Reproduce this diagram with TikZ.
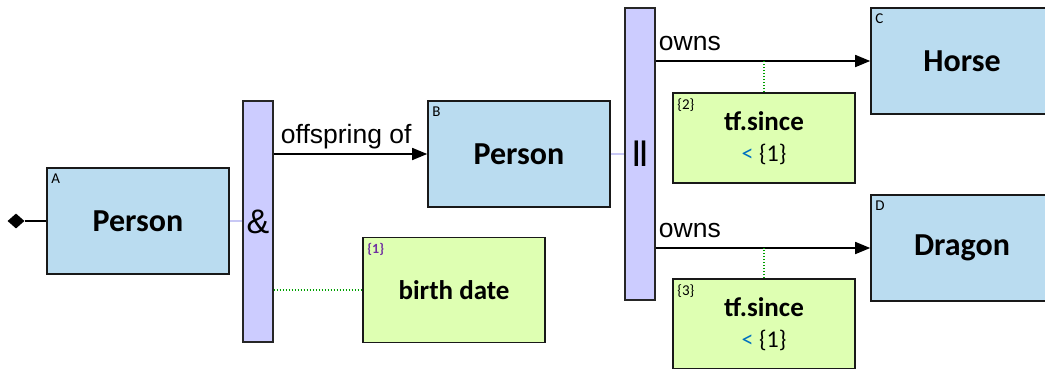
\documentclass[tikz,border=0pt]{standalone}
\usepackage{fontspec}
\setmainfont{Carlito}
\newfontfamily\arialf{Liberation Sans}
\usetikzlibrary{arrows.meta,shapes.geometric}
\definecolor{boxblue}{RGB}{186,220,240}
\definecolor{boxgreen}{RGB}{222,255,178}
\definecolor{barfill}{RGB}{204,204,255}
\definecolor{faint}{RGB}{200,200,245}
\definecolor{dotgreen}{RGB}{0,160,0}
\definecolor{ltblue}{RGB}{0,112,192}
\definecolor{purp}{RGB}{112,48,160}
\tikzset{
  ent/.style={draw=black!90, line width=1.6pt, fill=boxblue, minimum width=182pt, minimum height=106pt,
    inner sep=0pt, font=\fontsize{32}{34}\selectfont\bfseries},
  attr/.style={draw=black!90, line width=1.6pt, fill=boxgreen, minimum width=182pt, minimum height=90pt,
    inner sep=0pt, align=center, font=\fontsize{27}{29}\selectfont},
  opbar/.style={draw=black!85, line width=1.4pt, fill=barfill, minimum width=30pt, inner sep=0pt,
    font=\arialf\fontsize{34}{36}\selectfont},
  tag/.style={anchor=north west, inner sep=0pt, xshift=5pt, yshift=-6pt, font=\fontsize{15}{16}\selectfont},
  rel/.style={line width=1.6pt, -{Triangle[length=15pt,width=12pt]}},
  rlab/.style={anchor=base west, inner sep=0pt, font=\arialf\fontsize{26.5}{28}\selectfont},
  faintline/.style={draw=faint, line width=2pt},
  dotline/.style={draw=dotgreen, line width=1.5pt, dash pattern=on 1.5pt off 1.5pt},
}
\begin{document}
\begin{tikzpicture}[x=1pt,y=-1pt]
\clip (0,0) rectangle (1045,368);
\fill[white] (0,0) rectangle (1045,368);
% entities
\node[ent, label={[tag]north west:A}] (A) at (138,221) {Person};
\node[ent, label={[tag]north west:B}] (B) at (519,154) {Person};
\node[ent, label={[tag]north west:C}] (C) at (962,61) {Horse};
\node[ent, label={[tag]north west:D}] (D) at (962,248) {Dragon};
% operator bars
\node[opbar, minimum height=241pt] (andbar) at (258,221.5) {\raisebox{-3pt}{\&}};
\node[opbar, minimum height=292pt, font=\arialf\bfseries\fontsize{27}{29}\selectfont] (orbar) at (640,154) {|\kern-0.5pt|};
% attributes
\node[attr, minimum height=105pt, label={[tag, text=purp, font=\fontsize{14}{15}\selectfont\bfseries]north west:\{1\}}] (birth) at (454,290) {\textbf{birth date}};
\node[attr, label={[tag]north west:\{2\}}] (tf2) at (764,138) {\textbf{tf.since}\\[2pt]{\fontsize{24}{26}\selectfont\textcolor{ltblue}{<} \{1\}}};
\node[attr, label={[tag]north west:\{3\}}] (tf3) at (764,324) {\textbf{tf.since}\\[2pt]{\fontsize{24}{26}\selectfont\textcolor{ltblue}{<} \{1\}}};
% start diamond
\node[diamond, fill=black, inner sep=0pt, minimum width=17pt, minimum height=15pt] (start) at (16,221) {};
\draw[line width=1.6pt] (start) -- (A.west);
% faint links
\draw[faintline] (A.east) -- (A.east -| andbar.west);
\draw[faintline] (B.east) -- (B.east -| orbar.west);
% relations
\coordinate (r1) at (B.west -| andbar.east);
\draw[rel] (r1) -- (B.west);
\node[rlab] (l1) at ([shift={(7,-11)}]r1) {offspring of};
\coordinate (r2) at (C.west -| orbar.east);
\draw[rel] (r2) -- (C.west);
\node[rlab] (l2) at ([shift={(3,-11)}]r2) {owns};
\coordinate (r3) at (D.west -| orbar.east);
\draw[rel] (r3) -- (D.west);
\node[rlab] (l3) at ([shift={(3,-11)}]r3) {owns};
% dotted attribute links
\draw[dotline] (birth.west -| andbar.east) -- (birth.west);
\draw[dotline] (tf2.north) -- (tf2.north |- r2);
\draw[dotline] (tf3.north) -- (tf3.north |- r3);
\end{tikzpicture}
\end{document}
